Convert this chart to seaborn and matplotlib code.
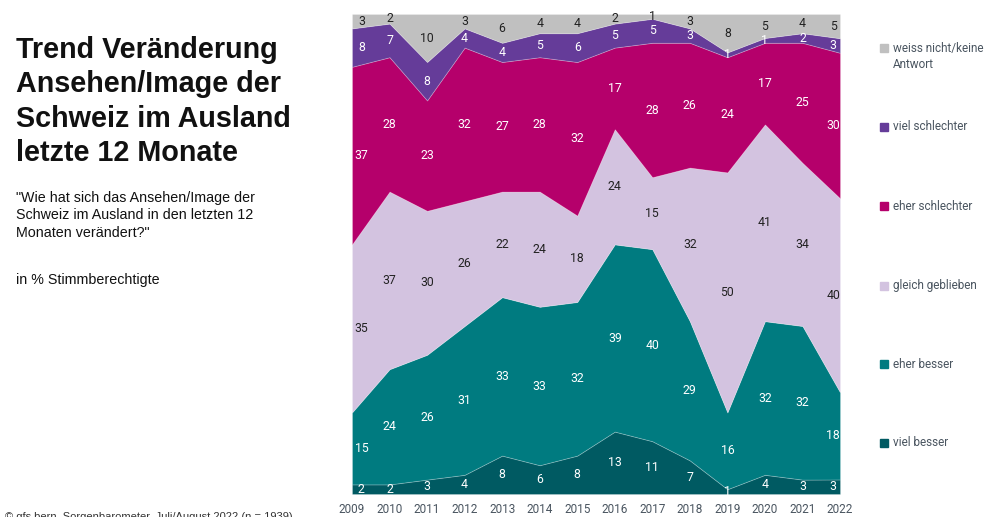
import matplotlib
matplotlib.use("Agg")
import matplotlib.pyplot as plt
import numpy as np
import pandas as pd
import seaborn as sns

years = [2009, 2010, 2011, 2012, 2013, 2014, 2015, 2016, 2017, 2018, 2019, 2020, 2021, 2022]
viel_besser = [2, 2, 3, 4, 8, 6, 8, 13, 11, 7, 1, 4, 3, 3]
eher_besser = [15, 24, 26, 31, 33, 33, 32, 39, 40, 29, 16, 32, 32, 18]
gleich = [35, 37, 30, 26, 22, 24, 18, 24, 15, 32, 50, 41, 34, 40]
eher_schlechter = [37, 28, 23, 32, 27, 28, 32, 17, 28, 26, 24, 17, 25, 30]
viel_schlechter = [8, 7, 8, 4, 4, 5, 6, 5, 5, 3, 1, 1, 2, 3]
weiss_nicht = [3, 2, 10, 3, 6, 4, 4, 2, 1, 3, 8, 5, 4, 5]

series_names = ["viel besser", "eher besser", "gleich geblieben", "eher schlechter",
                "viel schlechter", "weiss nicht/keine\nAntwort"]
colors = ["#005a62", "#007b80", "#d3c3e0", "#b5006b", "#653c99", "#c0c0c0"]
text_colors = ["white", "white", "#222222", "white", "white", "#222222"]

sns.set_theme(style="white")
plt.rcParams['font.family'] = ['Roboto', 'DejaVu Sans']

df = pd.DataFrame({
    "year": years,
    "viel besser": viel_besser,
    "eher besser": eher_besser,
    "gleich geblieben": gleich,
    "eher schlechter": eher_schlechter,
    "viel schlechter": viel_schlechter,
    "weiss nicht": weiss_nicht,
}).set_index("year")

vals = df.values.astype(float)
totals = vals.sum(axis=1, keepdims=True)
norm = vals / totals * 100

fig = plt.figure(figsize=(9.87, 5.17), dpi=100)
W, H = 987, 517
ax = fig.add_axes([352 / W, (H - 494) / H, (840 - 352) / W, (494 - 14) / H])

ax.stackplot(df.index, norm.T, colors=colors, linewidth=0.6, edgecolor="#ffffff40")
ax.set_xlim(years[0], years[-1])
ax.set_ylim(0, 100)
ax.set_yticks([])
ax.set_xticks(years)
ax.set_xticklabels([str(y) for y in years], fontsize=8.5, color="#4a5560")
ax.tick_params(axis="x", length=0, pad=6.5)
for s in ax.spines.values():
    s.set_visible(False)

cum = np.cumsum(norm, axis=1)
for i, y in enumerate(years):
    for j in range(vals.shape[1]):
        bottom = cum[i, j] - norm[i, j]
        mid = bottom + norm[i, j] / 2
        xpos = y
        if i == 0:
            xpos = y + 0.25
        elif i == len(years) - 1:
            xpos = y - 0.18
        ax.text(xpos, mid, f"{int(vals[i, j])}", ha="center", va="center",
                fontsize=8.8, color=text_colors[j])

# Legend
leg_y = [48, 127, 206, 286, 364, 443]
leg_order = list(range(5, -1, -1))
for yy, j in zip(leg_y, leg_order):
    fig.patches.append(plt.Rectangle((880 / W, (H - yy - 4) / H), 8 / W, 8 / H,
                                     transform=fig.transFigure, color=colors[j]))
    if j == 5:
        fig.text(893 / W, (H - yy + 6) / H, series_names[j], ha="left", va="top",
                 fontsize=8.5, color="#4a5560", linespacing=1.25)
    else:
        fig.text(893 / W, (H - yy) / H, series_names[j], ha="left", va="center",
                 fontsize=8.5, color="#4a5560")

# Title and subtitle
fig.text(16 / W, (H - 36) / H, "Trend Veränderung\nAnsehen/Image der\nSchweiz im Ausland\nletzte 12 Monate",
         ha="left", va="top", fontsize=20.7, fontweight="bold", color="#111111",
         family=["Liberation Sans", "DejaVu Sans"], linespacing=1.29)
fig.text(16 / W, (H - 191) / H,
         "\"Wie hat sich das Ansehen/Image der\nSchweiz im Ausland in den letzten 12\nMonaten verändert?\"",
         ha="left", va="top", fontsize=10.3, color="#111111",
         family=["Liberation Sans", "DejaVu Sans"], linespacing=1.31)
fig.text(16 / W, (H - 280) / H, "in % Stimmberechtigte", ha="left", va="center",
         fontsize=10.3, color="#111111", family=["Liberation Sans", "DejaVu Sans"])
fig.text(5 / W, (H - 512) / H, "© gfs.bern, Sorgenbarometer, Juli/August 2022 (n = 1939)",
         ha="left", va="top", fontsize=8, color="#333333",
         family=["Liberation Sans", "DejaVu Sans"])

fig.savefig("out.png", dpi=100)
